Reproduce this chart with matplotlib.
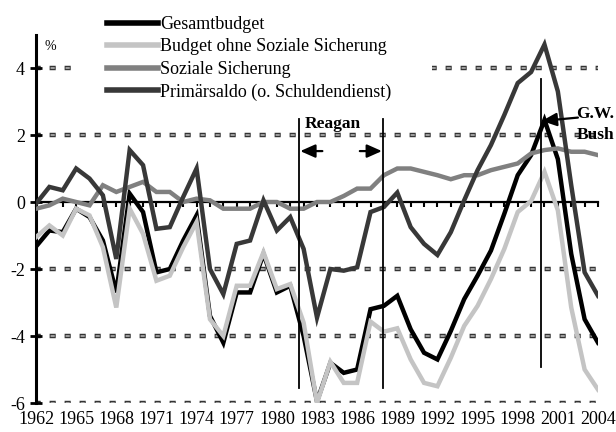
import numpy as np
import matplotlib
matplotlib.use('Agg')
from matplotlib import pyplot as plt

plt.rcParams['font.family'] = ['Liberation Serif', 'DejaVu Serif']
plt.rcParams['lines.scale_dashes'] = False

years = list(range(1962, 2005))
gesamt = [-1.33, -0.85, -0.9, -0.2, -0.45, -1.15, -2.7, 0.25, -0.3, -2.1, -2.0,
          -1.15, -0.4, -3.4, -4.2, -2.7, -2.7, -1.55, -2.7, -2.5, -4.0,
          -5.95, -4.8, -5.1, -5.0, -3.2, -3.1, -2.8, -3.8, -4.5, -4.7,
          -3.85, -2.9, -2.2, -1.45, -0.35, 0.8, 1.4, 2.45, 1.28, -1.55, -3.5, -4.2]
ohne_soz = [-1.05, -0.7, -1.0, -0.2, -0.4, -1.35, -3.15, -0.2, -0.95, -2.35, -2.2,
            -1.35, -0.6, -3.5, -4.0, -2.5, -2.5, -1.5, -2.6, -2.45, -3.6,
            -6.0, -4.77, -5.4, -5.4, -3.57, -3.87, -3.77, -4.7, -5.4, -5.5,
            -4.65, -3.7, -3.1, -2.3, -1.4, -0.3, 0.03, 0.9, -0.25, -3.15, -5.0, -5.6]
soz = [-0.2, -0.1, 0.1, 0.0, -0.1, 0.5, 0.3, 0.45, 0.6, 0.3, 0.3,
       0.0, 0.1, 0.05, -0.2, -0.2, -0.2, 0.0, 0.0, -0.2, -0.2,
       0.0, 0.0, 0.18, 0.4, 0.4, 0.8, 1.0, 1.0, 0.9, 0.8,
       0.68, 0.8, 0.8, 0.95, 1.05, 1.15, 1.45, 1.55, 1.6, 1.5, 1.5, 1.4]
primaer = [-0.05, 0.45, 0.35, 1.0, 0.7, 0.2, -1.7, 1.55, 1.1, -0.8, -0.75,
           0.15, 1.0, -2.0, -2.75, -1.25, -1.15, 0.05, -0.85, -0.45, -1.4,
           -3.45, -2.0, -2.05, -1.95, -0.3, -0.15, 0.28, -0.75, -1.25, -1.58,
           -0.9, 0.05, 0.95, 1.7, 2.6, 3.55, 3.88, 4.7, 3.3, 0.5, -2.1, -2.8]

labels = ['Gesamtbudget', 'Budget ohne Soziale Sicherung',
          'Soziale Sicherung', 'Primärsaldo (o. Schuldendienst)']
colors = ['#000000', '#c4c4c4', '#808080', '#383838']
yticks = [-6, -4, -2, 0, 2, 4]

W, H = 616, 432
fig = plt.figure(figsize=(W / 100, H / 100), dpi=100)
x0, x1 = 36, 598
ax = fig.add_axes([x0 / W, (H - 403) / H, (x1 - x0) / W, 403 / H])
ax.set_xlim(1962, 2004)
ax.set_ylim(-6, 6.03)

# dashed grid lines drawn as little outlined boxes
def grid(y, xa=1962, xb=2004):
    ax.plot([xa, xb], [y, y], color='#333333', lw=3.2,
            linestyle=(1.0, (4.4, 6.4)), zorder=1)
    ax.plot([xa, xb], [y, y], color='#b0b0b0', lw=1.2,
            linestyle=(0.3, (3.0, 7.8)), zorder=1)

for y in yticks:
    if y == 4:
        grid(y, 1962, 1964.7)
        grid(y, 1991.6, 2004)
    elif y != 0:
        grid(y)

lines = []
for vals, c, lab in zip([gesamt, ohne_soz, soz, primaer], colors, labels):
    ln, = ax.plot(years, vals, color=c, lw=3.2, label=lab, zorder=3,
                  solid_joinstyle='miter')
    lines.append(ln)

# zero line with yearly ticks
ax.spines['bottom'].set_position(('data', 0))
ax.spines['bottom'].set_linewidth(1.6)
ax.spines['bottom'].set_zorder(2)
ax.set_xticks(years)
ax.tick_params(axis='x', direction='out', length=3.5, width=1.5, labelbottom=False)
ax.spines['top'].set_visible(False)
ax.spines['right'].set_visible(False)
ax.spines['left'].set_bounds(-6, 5)
ax.spines['left'].set_linewidth(2.2)
ax.set_yticks(yticks)
ax.set_yticklabels([str(v) for v in yticks])
ax.tick_params(axis='y', direction='inout', length=8, width=2, labelsize=13, pad=4)
ax.patch.set_visible(False)

sec = ax.secondary_xaxis(0.0)
sec.set_xticks(years[::3])
sec.set_xticklabels([str(v) for v in years[::3]])
sec.tick_params(length=0, labelsize=13, pad=6)
sec.spines['bottom'].set_visible(False)

ax.text(1963.1, 4.63, '%', fontsize=10, ha='center', va='center')

arrow = dict(arrowstyle='-|>,head_length=0.9,head_width=0.4', color='black',
             lw=1.6, shrinkA=0, shrinkB=0)

# Reagan
for xv in [1981.66, 1987.93]:
    ax.plot([xv, xv], [-5.55, 2.48], color='black', lw=1.3, zorder=4)
ax.text(1984.2, 2.33, 'Reagan', fontsize=12.5, fontweight='bold', ha='center', va='center')
ax.annotate('', xy=(1981.75, 1.52), xytext=(1983.4, 1.52), arrowprops=arrow)
ax.annotate('', xy=(1987.85, 1.52), xytext=(1986.2, 1.52), arrowprops=arrow)

# G.W. Bush
ax.plot([1999.74, 1999.74], [-4.93, 3.67], color='black', lw=1.3, zorder=4)
ax.annotate('', xy=(1999.8, 2.42), xytext=(2002.5, 2.52), arrowprops=arrow, zorder=5)
ax.text(2002.4, 2.63, 'G.W.', fontsize=12.5, fontweight='bold', ha='left', va='center')
ax.text(2002.4, 2.0, 'Bush', fontsize=12.5, fontweight='bold', ha='left', va='center')

fig.legend(handles=lines, loc='upper left', bbox_to_anchor=(107 / W, 1 - 16 / H),
           frameon=False, fontsize=13, handlelength=2.8, handletextpad=0.15,
           labelspacing=0.3, borderpad=0, borderaxespad=0)
for h in fig.legends[0].get_lines():
    h.set_linewidth(4)

fig.savefig('out.png', dpi=100)
